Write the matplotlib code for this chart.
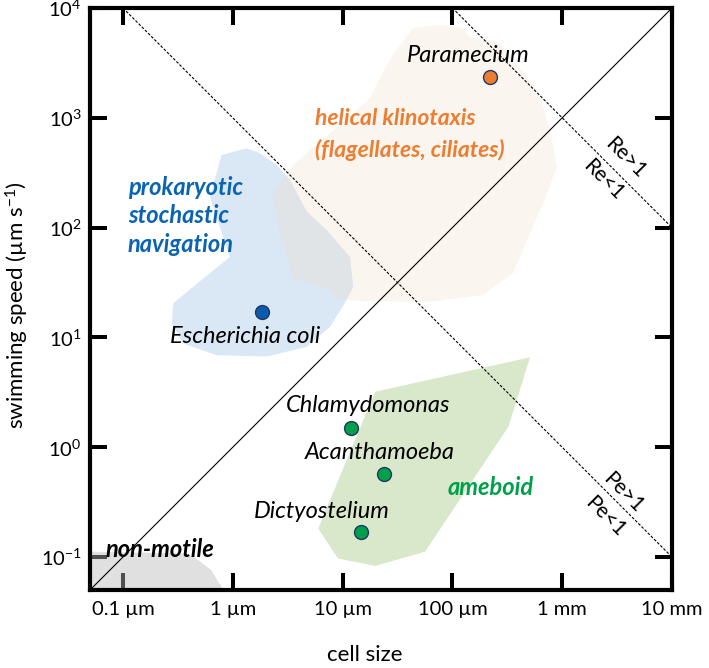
import numpy as np
import matplotlib.pyplot as plt
from matplotlib.patches import Polygon

plt.rcParams['font.family'] = ['Lato', 'DejaVu Sans']
plt.rcParams['mathtext.fontset'] = 'custom'
plt.rcParams['mathtext.rm'] = 'Lato'
plt.rcParams['mathtext.default'] = 'regular'

# cell size (um) and swimming speed (um/s) of example organisms
organisms = ['Paramecium', 'Escherichia coli', 'Chlamydomonas', 'Acanthamoeba', 'Dictyostelium']
org_size = [220, 1.85, 11.9, 23.9, 14.7]
org_speed = [2350, 17, 1.5, 0.57, 0.169]
org_colors = ['#ed7d31', '#0a5cab', '#00a04b', '#00a04b', '#00a04b']

# outlines of the strategy regions (size um, speed um/s)
blue_size = [0.79, 1.34, 1.77, 2.51, 3.32, 4.72, 7.18, 11.7, 12.5, 10.9, 7.7, 4.72,
             2.04, 0.71, 0.355, 0.278, 0.288, 0.438, 0.94, 0.62]
blue_speed = [458, 527, 475, 372, 272, 140, 95, 54, 29, 21.9, 12.5, 8.2,
              6.7, 6.9, 8.8, 13.4, 20.5, 29, 54, 190]
orange_size = [43.8, 77, 125, 145, 272, 479, 628, 775, 897, 670, 510, 357, 190, 58.7,
               13.5, 8.9, 7.2, 3.54, 2.69, 2.28, 3.54, 5.38, 10.1, 17.8, 23.4, 28.8]
orange_speed = [6580, 7000, 6580, 5440, 4800, 2350, 1545, 775, 356, 167, 89, 38.6, 24.3, 21,
                21.5, 22.9, 28.2, 34.8, 91, 198, 372, 531, 916, 1514, 2612, 3730]
green_size = [19.8, 510, 324, 56.4, 19.8, 9.1, 6.0]
green_speed = [3.2, 6.6, 1.54, 0.112, 0.083, 0.097, 0.182]
grey_size = [0.05, 0.338, 0.408, 0.483, 0.638, 0.705, 0.787, 0.80, 0.05]
grey_speed = [0.112, 0.108, 0.103, 0.094, 0.076, 0.064, 0.054, 0.05, 0.05]

x_ticks = [0.1, 1, 10, 100, 1000, 10000]
x_ticklabels = ['0.1 µm', '1 µm', '10 µm', '100 µm', '1 mm', '10 mm']
y_ticks = [0.1, 1, 10, 100, 1000, 10000]
y_ticklabels = [r'$10^{-1}$', r'$10^{0}$', r'$10^{1}$', r'$10^{2}$', r'$10^{3}$', r'$10^{4}$']

lo, hi = 10**-1.3, 1e4
nu = 1e6   # Re = 1 line: speed = nu / size
D = 1e3    # Pe = 1 line: speed = D / size

fig = plt.figure(figsize=(7.09, 6.68), dpi=100)
ax = fig.add_axes([90/709, 78/668, 582/709, 582/668])
ax.set_xscale('log')
ax.set_yscale('log')
ax.set_xlim(lo, hi)
ax.set_ylim(lo, hi)

ax.add_patch(Polygon(np.column_stack([blue_size, blue_speed]), closed=True,
                     fc='#dae7f5', ec='none', zorder=1))
ax.add_patch(Polygon(np.column_stack([orange_size, orange_speed]), closed=True,
                     fc=(240/255, 222/255, 200/255), alpha=0.3, ec='none', zorder=1.5))
ax.add_patch(Polygon(np.column_stack([green_size, green_speed]), closed=True,
                     fc='#d9e8cb', ec='none', zorder=1))
ax.add_patch(Polygon(np.column_stack([grey_size, grey_speed]), closed=True,
                     fc=(184/255, 184/255, 184/255), alpha=0.435, ec='none', zorder=3))

# reference lines
xx = np.array([lo, hi])
ax.plot(xx, xx, color='black', lw=0.8, zorder=4)
xr = np.array([nu / hi, hi])
ax.plot(xr, nu / xr, color='black', lw=0.8, dashes=(2.5, 1.5), zorder=4)
xp = np.array([D / hi, hi])
ax.plot(xp, D / xp, color='black', lw=0.8, dashes=(2.5, 1.5), zorder=4)

for s, v, c in zip(org_size, org_speed, org_colors):
    ax.plot(s, v, 'o', ms=10, mfc=c, mec='#1f3864', mew=1, zorder=6)

lab_kw = dict(fontsize=17, style='italic', ha='center', va='center', zorder=7)
ax.text(139, 3730, 'Paramecium', **lab_kw)
ax.text(1.29, 10.3, 'Escherichia coli', **lab_kw)
ax.text(17.1, 2.42, 'Chlamydomonas', **lab_kw)
ax.text(21.9, 0.90, 'Acanthamoeba', **lab_kw)
ax.text(6.4, 0.262, 'Dictyostelium', **lab_kw)

ax.text(5.61, 711, 'helical klinotaxis\n(flagellates, ciliates)', color='#ed7d31',
        fontsize=16.5, style='italic', weight='bold', ha='left', va='center',
        linespacing=1.55, zorder=7)
ax.text(0.111, 128, 'prokaryotic\nstochastic\nnavigation', color='#0a64b4',
        fontsize=17, style='italic', weight='bold', ha='left', va='center',
        linespacing=1.3, zorder=7)
ax.text(225, 0.434, 'ameboid', color='#00a04b', fontsize=17, style='italic',
        weight='bold', ha='center', va='center', zorder=7)
ax.text(0.0687, 0.116, 'non-motile', color='black', fontsize=17, style='italic',
        weight='bold', ha='left', va='center', zorder=7)

rot_kw = dict(fontsize=15, rotation=-45, rotation_mode='anchor', ha='center',
              va='center', zorder=7)
ax.text(3730, 430, 'Re>1', **rot_kw)
ax.text(2360, 272, 'Re<1', **rot_kw)
ax.text(3580, 0.383, 'Pe>1', **rot_kw)
ax.text(2455, 0.231, 'Pe<1', **rot_kw)

ax.set_xticks(x_ticks)
ax.set_xticklabels(x_ticklabels)
ax.set_yticks(y_ticks)
ax.set_yticklabels(y_ticklabels)
ax.minorticks_off()
ax.tick_params(which='major', direction='in', length=12, width=2.9,
               top=True, right=True, labelsize=14.5, color='black')
ax.tick_params(axis='x', pad=8)
ax.tick_params(axis='y', pad=6)
for sp in ax.spines.values():
    sp.set_linewidth(3)
    sp.set_zorder(5)

ax.set_xlabel('cell size', fontsize=16, va='center')
ax.xaxis.set_label_coords(0.4725, -0.112)
ax.set_ylabel(r'swimming speed (µm s$^{-1}$)', fontsize=16, va='center')
ax.yaxis.set_label_coords(-0.124, 0.49)

fig.savefig('out.png', dpi=100)
